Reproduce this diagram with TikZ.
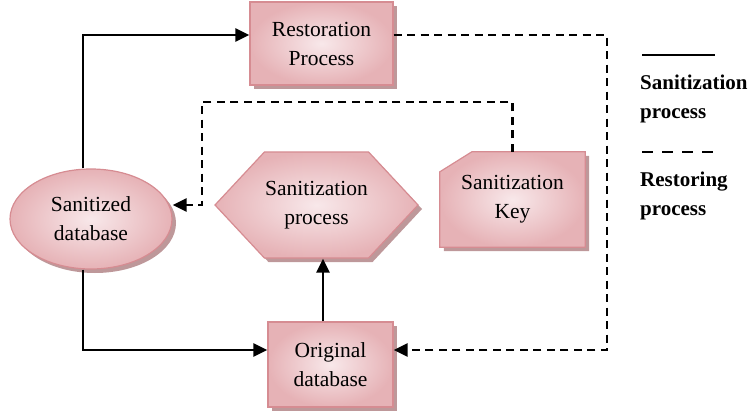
\documentclass[tikz,border=0pt]{standalone}
\usepackage{fontspec}
\setmainfont{Liberation Serif}
\usetikzlibrary{arrows.meta,positioning,calc,shapes.geometric,shapes.symbols,shadows}
\definecolor{pinklight}{RGB}{248,232,234}
\definecolor{pinkdark}{RGB}{230,178,182}
\definecolor{pinkedge}{RGB}{214,140,146}
\definecolor{pinkshadow}{RGB}{190,152,154}
\tikzset{
  pinkfill/.style={draw=pinkedge, line width=1.2pt, inner color=pinklight, outer color=pinkdark,
    drop shadow={shadow xshift=4pt, shadow yshift=-4pt, fill=pinkshadow, opacity=1}},
  block/.style={pinkfill, align=center, font=\fontsize{21.5}{29}\selectfont, inner sep=0pt},
  label/.style={align=center, font=\fontsize{21.5}{29}\selectfont, inner sep=0pt},
  flow/.style={line width=2.6pt, -{Triangle[length=14pt,width=13pt]}},
  back/.style={flow, dash pattern=on 8pt off 5.5pt},
  legtext/.style={anchor=west, align=left, font=\fontsize{21}{29}\selectfont\bfseries, inner sep=0pt}
}

\begin{document}
\begin{tikzpicture}[x=1pt, y=-1pt]
\useasboundingbox (0,0) rectangle (751,414);

\node[block, rectangle, minimum width=143pt, minimum height=83pt] (restore) at (321.5,43.5) {Restoration\\Process};
\node[block, ellipse, minimum width=162pt, minimum height=100pt] (sanitized) at (91,219) {Sanitized\\database};
\node[block, signal, signal to=east and west, signal pointer angle=94,
      minimum width=203pt, minimum height=106pt] (sanproc) at (316.5,205) {Sanitization\\process};
\node[minimum width=145pt, minimum height=95pt, inner sep=0pt] (key) at (512.5,199.5) {};
\path[pinkfill] ([yshift=-20pt]key.north west) -- ([xshift=32pt]key.north west) -- (key.north east)
  -- (key.south east) -- (key.south west) -- cycle;
\node[label] (keytext) at (key.center) {Sanitization\\Key};
\node[block, rectangle, minimum width=125pt, minimum height=85pt] (orig) at (330.5,364.5) {Original\\database};

% sanitization flow
\draw[flow] ([xshift=-8pt]sanitized.north) |- ([yshift=8.5pt]restore.west);
\draw[flow] ([xshift=-8pt]sanitized.south) |- ([yshift=14.5pt]orig.west);
\draw[flow] ([xshift=-7.5pt]orig.north) -- ([xshift=-7.5pt]orig.north |- sanproc.south);

% restoring flow
\coordinate (rturn) at (607,35);
\coordinate (kturn) at (202,102);
\draw[back] ([yshift=8.5pt]restore.east) -- (rturn) |- ([yshift=14.5pt]orig.east);
\draw[back] (key.north) |- (kturn) |- ([yshift=14pt]sanitized.east);

% legend
\draw[line width=2.6pt] (642,55) -- (715,55);
\node[legtext] (legsan) at (640,99) {Sanitization\\process};
\draw[line width=2.6pt, dash pattern=on 11pt off 9pt] (642,152) -- (715,152);
\node[legtext] (legres) at (640,196) {Restoring\\process};
\end{tikzpicture}
\end{document}
